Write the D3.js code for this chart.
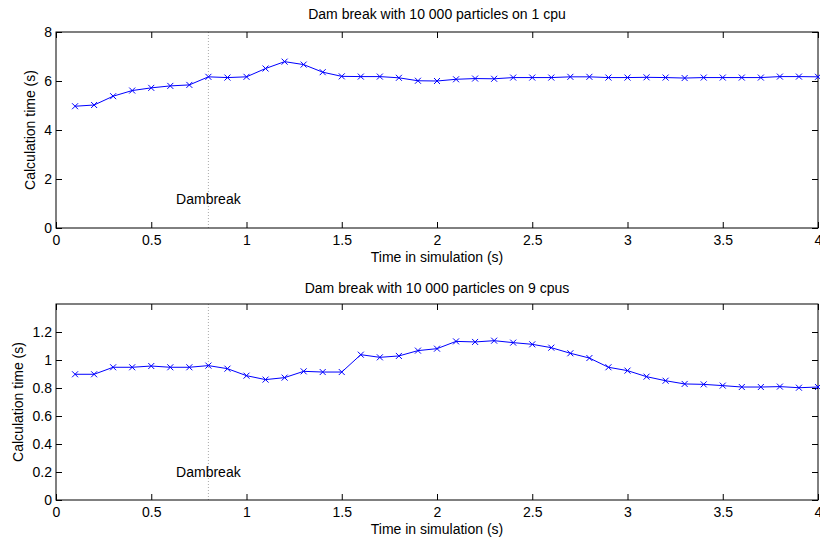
<!DOCTYPE html>
<html>
<head>
<meta charset="utf-8">
<script src="https://cdn.jsdelivr.net/npm/d3@7"></script>
<style>
  body { margin: 0; background: #fff; }
  text { font-family: "Liberation Sans", Arial, sans-serif; fill: #000; }
</style>
</head>
<body>
<div id="chart"></div>
<script>
// simulation time (s)
var times = [0.1, 0.2, 0.3, 0.4, 0.5, 0.6, 0.7, 0.8, 0.9, 1.0,
             1.1, 1.2, 1.3, 1.4, 1.5, 1.6, 1.7, 1.8, 1.9, 2.0,
             2.1, 2.2, 2.3, 2.4, 2.5, 2.6, 2.7, 2.8, 2.9, 3.0,
             3.1, 3.2, 3.3, 3.4, 3.5, 3.6, 3.7, 3.8, 3.9, 4.0]

// calculation time on 1 cpu
var cpu1 = [4.97, 5.02, 5.38, 5.61, 5.72, 5.80, 5.84, 6.17, 6.14, 6.17,
            6.51, 6.79, 6.67, 6.36, 6.19, 6.18, 6.18, 6.13, 6.01, 6.00,
            6.07, 6.10, 6.09, 6.14, 6.14, 6.14, 6.17, 6.17, 6.14, 6.14,
            6.15, 6.14, 6.12, 6.14, 6.14, 6.14, 6.14, 6.18, 6.18, 6.17]

// calculation time on 9 cpus
var cpu9 = [0.898, 0.898, 0.948, 0.948, 0.957, 0.948, 0.948, 0.960, 0.938, 0.888,
            0.860, 0.874, 0.919, 0.914, 0.914, 1.038, 1.019, 1.029, 1.067, 1.081,
            1.133, 1.129, 1.138, 1.124, 1.112, 1.088, 1.048, 1.014, 0.948, 0.924,
            0.881, 0.852, 0.829, 0.826, 0.817, 0.807, 0.807, 0.810, 0.802, 0.807]

var xTicks = [0, 0.5, 1, 1.5, 2, 2.5, 3, 3.5, 4]
var yTicks1 = [0, 2, 4, 6, 8]
var yTicks2 = [0, 0.2, 0.4, 0.6, 0.8, 1, 1.2]

var dambreak = 0.8

var width = 820, height = 543
var fs = "14px"

var svg = d3.select("#chart")
    .append("svg")
    .attr("width", width)
    .attr("height", height)

function drawPanel(opts) {
    var left = 56, right = 818
    var x = d3.scaleLinear().domain([0, 4]).range([left, right])
    var y = d3.scaleLinear().domain(opts.yDomain).range([opts.bottom, opts.top])

    var g = svg.append("g")

    // dambreak line
    g.append("line")
        .attr("x1", x(dambreak)).attr("x2", x(dambreak))
        .attr("y1", opts.bottom).attr("y2", opts.top)
        .attr("stroke", "#aaa")
        .attr("stroke-width", 1)
        .attr("stroke-dasharray", "1,2")

    g.append("text")
        .attr("x", x(dambreak))
        .attr("y", y(opts.labelY))
        .attr("dy", "0.35em")
        .attr("text-anchor", "middle")
        .attr("font-size", fs)
        .text("Dambreak")

    // axes, ticks inward
    var tl = 6
    g.append("g")
        .attr("transform", `translate(0,${opts.bottom})`)
        .call(d3.axisBottom(x).tickValues(xTicks).tickSize(-tl).tickPadding(7).tickFormat(d => String(d)))
        .call(a => a.select(".domain").remove())
    g.append("g")
        .attr("transform", `translate(0,${opts.top})`)
        .call(d3.axisTop(x).tickValues(xTicks).tickSize(-tl).tickFormat(""))
        .call(a => a.select(".domain").remove())
    g.append("g")
        .attr("transform", `translate(${left},0)`)
        .call(d3.axisLeft(y).tickValues(opts.yTicks).tickSize(-tl).tickPadding(4).tickFormat(d => String(d)))
        .call(a => a.select(".domain").remove())
    g.append("g")
        .attr("transform", `translate(${right},0)`)
        .call(d3.axisRight(y).tickValues(opts.yTicks).tickSize(-tl).tickFormat(""))
        .call(a => a.select(".domain").remove())

    g.selectAll(".tick text")
        .attr("font-size", fs)
        .attr("font-family", "'Liberation Sans', Arial, sans-serif")
        .attr("fill", "#000")
    g.selectAll(".tick line").attr("stroke", "#000")

    // box
    g.append("rect")
        .attr("x", left).attr("y", opts.top)
        .attr("width", right - left).attr("height", opts.bottom - opts.top)
        .attr("fill", "none")
        .attr("stroke", "#000")
        .attr("stroke-width", 1)

    // line
    var line = d3.line()
        .x((d, i) => x(times[i]))
        .y(d => y(d))
    g.append("path")
        .datum(opts.values)
        .attr("d", line)
        .attr("fill", "none")
        .attr("stroke", "#0000ff")
        .attr("stroke-width", 1)

    // x markers
    var m = 3
    g.selectAll(".mark")
        .data(opts.values)
        .enter()
        .append("path")
        .attr("d", (d, i) => {
            var cx = x(times[i]), cy = y(d)
            return `M${cx - m},${cy - m}L${cx + m},${cy + m}M${cx - m},${cy + m}L${cx + m},${cy - m}`
        })
        .attr("stroke", "#0000ff")
        .attr("stroke-width", 1)

    // titles
    var mid = (left + right) / 2
    g.append("text")
        .attr("x", mid).attr("y", opts.top - opts.titleGap)
        .attr("text-anchor", "middle")
        .attr("font-size", fs)
        .text(opts.title)
    g.append("text")
        .attr("x", mid).attr("y", opts.bottom + 34)
        .attr("text-anchor", "middle")
        .attr("font-size", fs)
        .text("Time in simulation (s)")
    g.append("text")
        .attr("transform", `translate(${opts.ylabelX},${(opts.top + opts.bottom) / 2}) rotate(-90)`)
        .attr("dy", "0.35em")
        .attr("text-anchor", "middle")
        .attr("font-size", fs)
        .text("Calculation time (s)")
}

drawPanel({
    top: 32, bottom: 228,
    yDomain: [0, 8], yTicks: yTicks1,
    values: cpu1, labelY: 1.2,
    titleGap: 13, ylabelX: 30,
    title: "Dam break with 10 000 particles on 1 cpu"
})

drawPanel({
    top: 304, bottom: 500,
    yDomain: [0, 1.4], yTicks: yTicks2,
    values: cpu9, labelY: 0.2,
    titleGap: 11, ylabelX: 18,
    title: "Dam break with 10 000 particles on 9 cpus"
})
</script>
</body>
</html>
